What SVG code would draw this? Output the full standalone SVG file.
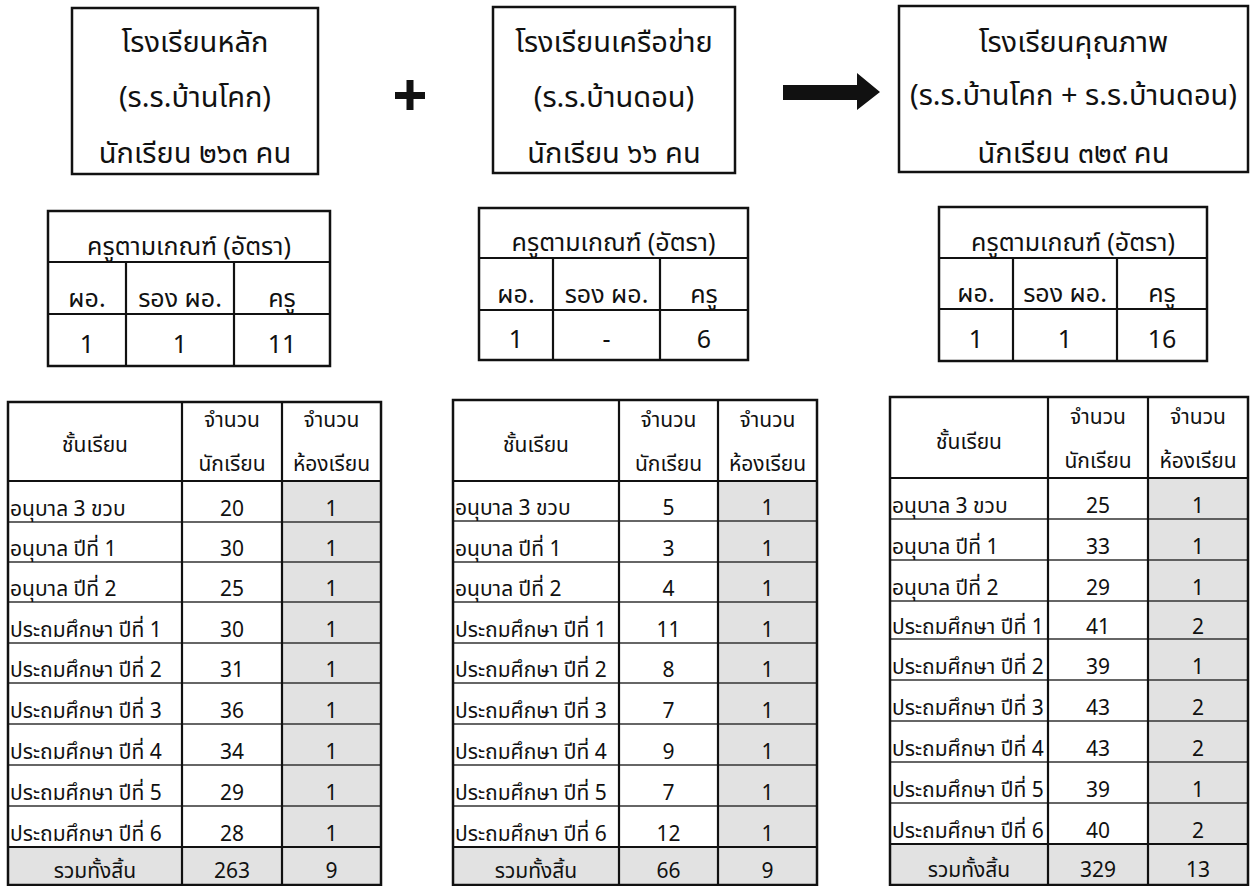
<svg xmlns="http://www.w3.org/2000/svg" width="1252" height="886" viewBox="0 0 1252 886">
<style>
text{font-family:"Noto Sans Thai","Noto Sans","DejaVu Sans",sans-serif;fill:#111}
.box{fill:#fff;stroke:#111;stroke-width:2.5}
.t30{font-size:29px;text-anchor:middle}
.t26{font-size:25px;text-anchor:middle}
.t19{font-size:21px}
.c{text-anchor:middle}
.outer{fill:none;stroke:#111;stroke-width:2.5}
.vl{stroke:#111;stroke-width:2.2}
.hl{stroke:#333;stroke-width:1.3}
.hb{stroke:#111;stroke-width:2.2}
.sh{fill:#e2e2e2}
</style>
<rect width="1252" height="886" fill="#fff"/>

<g id="school-main">
<rect class="box" x="72" y="8" width="246" height="166"/>
<text class="t30" x="195" y="52">โรงเรียนหลัก</text>
<text class="t30" x="195" y="107">(ร.ร.บ้านโคก)</text>
<text class="t30" x="195" y="163">นักเรียน ๒๖๓ คน</text>
</g>

<g id="school-network">
<rect class="box" x="493" y="7" width="242" height="166"/>
<text class="t30" x="614" y="52">โรงเรียนเครือข่าย</text>
<text class="t30" x="614" y="107">(ร.ร.บ้านดอน)</text>
<text class="t30" x="614" y="163">นักเรียน ๖๖ คน</text>
</g>

<g id="school-quality">
<rect class="box" x="899" y="6" width="349" height="166"/>
<text class="t30" x="1073.5" y="52">โรงเรียนคุณภาพ</text>
<text class="t30" x="1073.5" y="105">(ร.ร.บ้านโคก + ร.ร.บ้านดอน)</text>
<text class="t30" x="1073.5" y="163">นักเรียน ๓๒๙ คน</text>
</g>

<g id="plus">
<rect x="395" y="92" width="30" height="7" fill="#111"/>
<rect x="406.5" y="80" width="7" height="30" fill="#111"/>
</g>

<g id="connectors">
<path d="M783 85 H857 V73 L880 92 L857 110 V100 H783 Z" fill="#111"/>
</g>

<!-- teacher tables -->
<g id="teachers-main">
<rect x="48" y="211" width="282" height="155" fill="#fff"/>
<line class="hb" x1="48" y1="262" x2="330" y2="262"/>
<line class="hb" x1="48" y1="314" x2="330" y2="314"/>
<line class="vl" x1="126" y1="262" x2="126" y2="366"/>
<line class="vl" x1="234" y1="262" x2="234" y2="366"/>
<rect class="outer" x="48" y="211" width="282" height="155"/>
<text class="t26" x="189" y="255">ครูตามเกณฑ์ (อัตรา)</text>
<text class="t26" x="87" y="307">ผอ.</text>
<text class="t26" x="180" y="307">รอง ผอ.</text>
<text class="t26" x="282" y="307">ครู</text>
<text class="t26" x="87" y="353">1</text>
<text class="t26" x="180" y="353">1</text>
<text class="t26" x="282" y="353">11</text>
</g>

<g id="teachers-network">
<rect x="479" y="208" width="269" height="152" fill="#fff"/>
<line class="hb" x1="479" y1="258" x2="748" y2="258"/>
<line class="hb" x1="479" y1="310" x2="748" y2="310"/>
<line class="vl" x1="553" y1="258" x2="553" y2="360"/>
<line class="vl" x1="660" y1="258" x2="660" y2="360"/>
<rect class="outer" x="479" y="208" width="269" height="152"/>
<text class="t26" x="613.5" y="251">ครูตามเกณฑ์ (อัตรา)</text>
<text class="t26" x="516" y="303">ผอ.</text>
<text class="t26" x="606.5" y="303">รอง ผอ.</text>
<text class="t26" x="704" y="303">ครู</text>
<text class="t26" x="516" y="348">1</text>
<text class="t26" x="606.5" y="348">-</text>
<text class="t26" x="704" y="348">6</text>
</g>

<g id="teachers-quality">
<rect x="939" y="207" width="268" height="154" fill="#fff"/>
<line class="hb" x1="939" y1="258" x2="1207" y2="258"/>
<line class="hb" x1="939" y1="309" x2="1207" y2="309"/>
<line class="vl" x1="1013" y1="258" x2="1013" y2="361"/>
<line class="vl" x1="1117" y1="258" x2="1117" y2="361"/>
<rect class="outer" x="939" y="207" width="268" height="154"/>
<text class="t26" x="1073" y="251">ครูตามเกณฑ์ (อัตรา)</text>
<text class="t26" x="976" y="302">ผอ.</text>
<text class="t26" x="1065" y="302">รอง ผอ.</text>
<text class="t26" x="1162" y="302">ครู</text>
<text class="t26" x="976" y="348">1</text>
<text class="t26" x="1065" y="348">1</text>
<text class="t26" x="1162" y="348">16</text>
</g>

<!-- class tables -->
<g id="classes-main" class="t19">
<rect x="282" y="481" width="99" height="366" class="sh"/>
<rect x="8" y="847" width="373" height="38" class="sh"/>
<g class="hl">
<line x1="8" y1="522" x2="381" y2="522"/><line x1="8" y1="562" x2="381" y2="562"/>
<line x1="8" y1="602" x2="381" y2="602"/><line x1="8" y1="643" x2="381" y2="643"/>
<line x1="8" y1="683" x2="381" y2="683"/><line x1="8" y1="724" x2="381" y2="724"/>
<line x1="8" y1="765" x2="381" y2="765"/><line x1="8" y1="806" x2="381" y2="806"/>
</g>
<line class="hb" x1="8" y1="481" x2="381" y2="481"/>
<line class="hb" x1="8" y1="847" x2="381" y2="847"/>
<line class="vl" x1="182" y1="402" x2="182" y2="885"/>
<line class="vl" x1="282" y1="402" x2="282" y2="885"/>
<rect class="outer" x="8" y="402" width="373" height="483"/>
<text class="c" x="95" y="452">ชั้นเรียน</text>
<text class="c" x="232" y="427">จำนวน</text><text class="c" x="232" y="471">นักเรียน</text>
<text class="c" x="331.5" y="427">จำนวน</text><text class="c" x="331.5" y="471">ห้องเรียน</text>
<text x="10" y="516">อนุบาล 3 ขวบ</text><text class="c" x="232" y="516">20</text><text class="c" x="331.5" y="516">1</text>
<text x="10" y="556">อนุบาล ปีที่ 1</text><text class="c" x="232" y="556">30</text><text class="c" x="331.5" y="556">1</text>
<text x="10" y="596">อนุบาล ปีที่ 2</text><text class="c" x="232" y="596">25</text><text class="c" x="331.5" y="596">1</text>
<text x="10" y="637">ประถมศึกษา ปีที่ 1</text><text class="c" x="232" y="637">30</text><text class="c" x="331.5" y="637">1</text>
<text x="10" y="677">ประถมศึกษา ปีที่ 2</text><text class="c" x="232" y="677">31</text><text class="c" x="331.5" y="677">1</text>
<text x="10" y="718">ประถมศึกษา ปีที่ 3</text><text class="c" x="232" y="718">36</text><text class="c" x="331.5" y="718">1</text>
<text x="10" y="759">ประถมศึกษา ปีที่ 4</text><text class="c" x="232" y="759">34</text><text class="c" x="331.5" y="759">1</text>
<text x="10" y="800">ประถมศึกษา ปีที่ 5</text><text class="c" x="232" y="800">29</text><text class="c" x="331.5" y="800">1</text>
<text x="10" y="841">ประถมศึกษา ปีที่ 6</text><text class="c" x="232" y="841">28</text><text class="c" x="331.5" y="841">1</text>
<text class="c" x="95" y="878">รวมทั้งสิ้น</text><text class="c" x="232" y="878">263</text><text class="c" x="331.5" y="878">9</text>
</g>

<g id="classes-network" class="t19">
<rect x="718" y="481" width="99" height="366" class="sh"/>
<rect x="453" y="847" width="364" height="38" class="sh"/>
<g class="hl">
<line x1="453" y1="521" x2="817" y2="521"/><line x1="453" y1="562" x2="817" y2="562"/>
<line x1="453" y1="602" x2="817" y2="602"/><line x1="453" y1="643" x2="817" y2="643"/>
<line x1="453" y1="683" x2="817" y2="683"/><line x1="453" y1="724" x2="817" y2="724"/>
<line x1="453" y1="765" x2="817" y2="765"/><line x1="453" y1="806" x2="817" y2="806"/>
</g>
<line class="hb" x1="453" y1="481" x2="817" y2="481"/>
<line class="hb" x1="453" y1="847" x2="817" y2="847"/>
<line class="vl" x1="619" y1="400" x2="619" y2="885"/>
<line class="vl" x1="718" y1="400" x2="718" y2="885"/>
<rect class="outer" x="453" y="400" width="364" height="485"/>
<text class="c" x="536" y="452">ชั้นเรียน</text>
<text class="c" x="668.5" y="427">จำนวน</text><text class="c" x="668.5" y="471">นักเรียน</text>
<text class="c" x="767.5" y="427">จำนวน</text><text class="c" x="767.5" y="471">ห้องเรียน</text>
<text x="455" y="515">อนุบาล 3 ขวบ</text><text class="c" x="668.5" y="515">5</text><text class="c" x="767.5" y="515">1</text>
<text x="455" y="556">อนุบาล ปีที่ 1</text><text class="c" x="668.5" y="556">3</text><text class="c" x="767.5" y="556">1</text>
<text x="455" y="596">อนุบาล ปีที่ 2</text><text class="c" x="668.5" y="596">4</text><text class="c" x="767.5" y="596">1</text>
<text x="455" y="637">ประถมศึกษา ปีที่ 1</text><text class="c" x="668.5" y="637">11</text><text class="c" x="767.5" y="637">1</text>
<text x="455" y="677">ประถมศึกษา ปีที่ 2</text><text class="c" x="668.5" y="677">8</text><text class="c" x="767.5" y="677">1</text>
<text x="455" y="718">ประถมศึกษา ปีที่ 3</text><text class="c" x="668.5" y="718">7</text><text class="c" x="767.5" y="718">1</text>
<text x="455" y="759">ประถมศึกษา ปีที่ 4</text><text class="c" x="668.5" y="759">9</text><text class="c" x="767.5" y="759">1</text>
<text x="455" y="800">ประถมศึกษา ปีที่ 5</text><text class="c" x="668.5" y="800">7</text><text class="c" x="767.5" y="800">1</text>
<text x="455" y="841">ประถมศึกษา ปีที่ 6</text><text class="c" x="668.5" y="841">12</text><text class="c" x="767.5" y="841">1</text>
<text class="c" x="536" y="878">รวมทั้งสิ้น</text><text class="c" x="668.5" y="878">66</text><text class="c" x="767.5" y="878">9</text>
</g>

<g id="classes-quality" class="t19">
<rect x="1148" y="478" width="100" height="366" class="sh"/>
<rect x="890" y="844" width="358" height="41" class="sh"/>
<g class="hl">
<line x1="890" y1="519" x2="1248" y2="519"/><line x1="890" y1="560" x2="1248" y2="560"/>
<line x1="890" y1="601" x2="1248" y2="601"/><line x1="890" y1="639" x2="1248" y2="639"/>
<line x1="890" y1="680" x2="1248" y2="680"/><line x1="890" y1="721" x2="1248" y2="721"/>
<line x1="890" y1="762" x2="1248" y2="762"/><line x1="890" y1="803" x2="1248" y2="803"/>
</g>
<line class="hb" x1="890" y1="478" x2="1248" y2="478"/>
<line class="hb" x1="890" y1="844" x2="1248" y2="844"/>
<line class="vl" x1="1048" y1="397" x2="1048" y2="885"/>
<line class="vl" x1="1148" y1="397" x2="1148" y2="885"/>
<rect class="outer" x="890" y="397" width="358" height="488"/>
<text class="c" x="969" y="449">ชั้นเรียน</text>
<text class="c" x="1098" y="424">จำนวน</text><text class="c" x="1098" y="468">นักเรียน</text>
<text class="c" x="1198" y="424">จำนวน</text><text class="c" x="1198" y="468">ห้องเรียน</text>
<text x="892" y="513">อนุบาล 3 ขวบ</text><text class="c" x="1098" y="513">25</text><text class="c" x="1198" y="513">1</text>
<text x="892" y="554">อนุบาล ปีที่ 1</text><text class="c" x="1098" y="554">33</text><text class="c" x="1198" y="554">1</text>
<text x="892" y="595">อนุบาล ปีที่ 2</text><text class="c" x="1098" y="595">29</text><text class="c" x="1198" y="595">1</text>
<text x="892" y="634">ประถมศึกษา ปีที่ 1</text><text class="c" x="1098" y="634">41</text><text class="c" x="1198" y="634">2</text>
<text x="892" y="674">ประถมศึกษา ปีที่ 2</text><text class="c" x="1098" y="674">39</text><text class="c" x="1198" y="674">1</text>
<text x="892" y="715">ประถมศึกษา ปีที่ 3</text><text class="c" x="1098" y="715">43</text><text class="c" x="1198" y="715">2</text>
<text x="892" y="756">ประถมศึกษา ปีที่ 4</text><text class="c" x="1098" y="756">43</text><text class="c" x="1198" y="756">2</text>
<text x="892" y="797">ประถมศึกษา ปีที่ 5</text><text class="c" x="1098" y="797">39</text><text class="c" x="1198" y="797">1</text>
<text x="892" y="838">ประถมศึกษา ปีที่ 6</text><text class="c" x="1098" y="838">40</text><text class="c" x="1198" y="838">2</text>
<text class="c" x="969" y="877">รวมทั้งสิ้น</text><text class="c" x="1098" y="877">329</text><text class="c" x="1198" y="877">13</text>
</g>
</svg>
